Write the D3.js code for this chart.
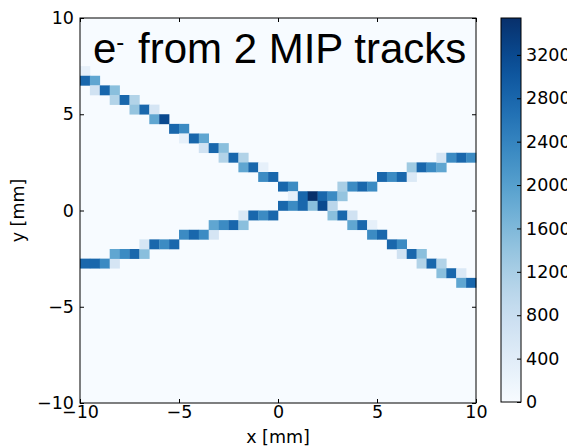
<!DOCTYPE html>
<html>
<head>
<meta charset="utf-8">
<script src="https://cdn.jsdelivr.net/npm/d3@7"></script>
<style>
  body { margin: 0; background: #fff; }
</style>
</head>
<body>
<svg id="chart" width="567" height="448"></svg>
<script>
// histogram bins: [x lower edge (mm), y lower edge (mm), counts], bin size 0.5 mm
const binSize = 0.5;
const xDomain = [-10, 10];
const yDomain = [-10, 10];
const axisTicks = [-10, -5, 0, 5, 10];
const colorMax = 3540;
const colorTicks = [0, 400, 800, 1200, 1600, 2000, 2400, 2800, 3200];

const descendingTrack = [
  [-10, 7.0, 300],
  [-10, 6.5, 2800], [-9.5, 6.5, 1900],
  [-9.5, 6.0, 700], [-9, 6.0, 2800], [-8.5, 6.0, 1500],
  [-8.5, 5.5, 1100], [-8, 5.5, 2800], [-7.5, 5.5, 1100],
  [-7.5, 5.0, 1400], [-7, 5.0, 2800], [-6.5, 5.0, 600],
  [-6.5, 4.5, 1900], [-6, 4.5, 3200],
  [-5.5, 4.0, 2800], [-5, 4.0, 2300],
  [-5, 3.5, 300], [-4.5, 3.5, 2800], [-4, 3.5, 1900],
  [-4, 3.0, 700], [-3.5, 3.0, 2800], [-3, 3.0, 1500],
  [-3, 2.5, 1100], [-2.5, 2.5, 2800], [-2, 2.5, 1100],
  [-2, 2.0, 1900], [-1.5, 2.0, 2800], [-1, 2.0, 300],
  [-1, 1.5, 2300], [-0.5, 1.5, 2800],
  [0, 1.0, 2800], [0.5, 1.0, 2300],
  [2.5, -0.5, 1500], [3, -0.5, 2800], [3.5, -0.5, 700],
  [3.5, -1.0, 1900], [4, -1.0, 2800], [4.5, -1.0, 300],
  [4.5, -1.5, 2300], [5, -1.5, 2800],
  [5.5, -2.0, 2800], [6, -2.0, 2300],
  [6, -2.5, 700], [6.5, -2.5, 2800], [7, -2.5, 1500],
  [7, -3.0, 1100], [7.5, -3.0, 2800], [8, -3.0, 1100],
  [8, -3.5, 1500], [8.5, -3.5, 2800], [9, -3.5, 500],
  [9, -4.0, 1900], [9.5, -4.0, 2800],
];

const ascendingTrack = [
  [-10, -3.0, 2800], [-9.5, -3.0, 2800], [-9, -3.0, 2300], [-8.5, -3.0, 600],
  [-8.5, -2.5, 1900], [-8, -2.5, 2300], [-7.5, -2.5, 2800], [-7, -2.5, 1500],
  [-7, -2.0, 600], [-6.5, -2.0, 2800], [-6, -2.0, 2300], [-5.5, -2.0, 2800],
  [-5, -1.5, 2300], [-4.5, -1.5, 2800], [-4, -1.5, 2300], [-3.5, -1.5, 600],
  [-3.5, -1.0, 1900], [-3, -1.0, 2300], [-2.5, -1.0, 2800], [-2, -1.0, 1500],
  [-2, -0.5, 500], [-1.5, -0.5, 2800], [-1, -0.5, 2300], [-0.5, -0.5, 2800],
  [3, 1.0, 1200], [3.5, 1.0, 2300], [4, 1.0, 2800], [4.5, 1.0, 2300],
  [5, 1.5, 2800], [5.5, 1.5, 2300], [6, 1.5, 2800], [6.5, 1.5, 500],
  [6.5, 2.0, 1300], [7, 2.0, 2800], [7.5, 2.0, 2300], [8, 2.0, 1900],
  [8, 2.5, 600], [8.5, 2.5, 2300], [9, 2.5, 2800], [9.5, 2.5, 2300],
];

// where the two tracks overlap
const crossingCells = [
  [0.5, 0.5, 300], [1, 0.5, 2800], [1.5, 0.5, 3540], [2, 0.5, 2800], [2.5, 0.5, 2300], [3, 0.5, 1400],
  [0, 0.0, 2800], [0.5, 0.0, 2300], [1, 0.0, 2800], [1.5, 0.0, 1500], [2, 0.0, 3200], [2.5, 0.0, 1000],
];

const svg = d3.select("#chart");
const margin = { left: 80, top: 18 };
const plotW = 396;
const plotH = 385;
const tickLen = 4;
const fontSize = 17.5;
const labelFont = "'DejaVu Sans', sans-serif";

const x = d3.scaleLinear().domain(xDomain).range([0, plotW]);
const y = d3.scaleLinear().domain(yDomain).range([plotH, 0]);
const color = d3.scaleSequential(d3.interpolateBlues).domain([0, colorMax]);

const g = svg.append("g").attr("transform", `translate(${margin.left},${margin.top})`);

g.append("rect")
  .attr("width", plotW)
  .attr("height", plotH)
  .attr("fill", color(0));

const cells = descendingTrack.concat(ascendingTrack, crossingCells)
  .map(([bx, by, count]) => ({ bx, by, count }));

g.append("g")
  .selectAll("rect")
  .data(cells)
  .join("rect")
  .attr("x", (d) => x(d.bx))
  .attr("y", (d) => y(d.by + binSize))
  .attr("width", (d) => x(d.bx + binSize) - x(d.bx) + 0.3)
  .attr("height", (d) => y(d.by) - y(d.by + binSize) + 0.3)
  .attr("fill", (d) => color(d.count));

// title inside the plot
const title = g.append("text")
  .attr("x", 13)
  .attr("y", 45)
  .style("font-family", "'Liberation Sans', Arial, sans-serif")
  .style("font-size", "42px")
  .attr("fill", "#000");
title.append("tspan").text("e");
title.append("tspan").style("font-size", "24px").attr("dy", -13).text("-");
title.append("tspan").attr("dy", 13).attr("x", 58).text("from 2 MIP tracks");

function styleAxis(sel) {
  sel.select(".domain").remove();
  sel.selectAll("line").attr("stroke", "#000");
  sel.selectAll("text")
    .style("font-size", `${fontSize}px`)
    .style("font-family", labelFont)
    .attr("fill", "#000");
}

g.append("g")
  .attr("transform", `translate(0,${plotH})`)
  .call(d3.axisBottom(x).tickValues(axisTicks).tickSize(-tickLen).tickPadding(3))
  .call(styleAxis);
g.append("g")
  .call(d3.axisTop(x).tickValues(axisTicks).tickSize(-tickLen).tickFormat(""))
  .call(styleAxis);
g.append("g")
  .call(d3.axisLeft(y).tickValues(axisTicks).tickSize(-tickLen).tickPadding(6))
  .call(styleAxis);
g.append("g")
  .attr("transform", `translate(${plotW},0)`)
  .call(d3.axisRight(y).tickValues(axisTicks).tickSize(-tickLen).tickFormat(""))
  .call(styleAxis);

g.append("rect")
  .attr("width", plotW)
  .attr("height", plotH)
  .attr("fill", "none")
  .attr("stroke", "#000")
  .attr("stroke-width", 1);

g.append("text")
  .attr("x", plotW / 2)
  .attr("y", plotH + 40)
  .attr("text-anchor", "middle")
  .style("font-size", `${fontSize}px`)
  .style("font-family", labelFont)
  .text("x [mm]");

g.append("text")
  .attr("transform", "rotate(-90)")
  .attr("x", -plotH / 2)
  .attr("y", -56)
  .attr("text-anchor", "middle")
  .style("font-size", `${fontSize}px`)
  .style("font-family", labelFont)
  .text("y [mm]");

// colorbar
const cb = { x: 501, y: 18, w: 20, h: 384 };
const cbScale = d3.scaleLinear().domain([0, colorMax]).range([cb.h, 0]);

const grad = svg.append("defs").append("linearGradient")
  .attr("id", "cbgrad")
  .attr("x1", 0).attr("y1", 1).attr("x2", 0).attr("y2", 0);
grad.selectAll("stop")
  .data(d3.range(0, 1.0001, 0.05))
  .join("stop")
  .attr("offset", (t) => t)
  .attr("stop-color", (t) => color(t * colorMax));

const cbg = svg.append("g").attr("transform", `translate(${cb.x},${cb.y})`);
cbg.append("rect")
  .attr("width", cb.w)
  .attr("height", cb.h)
  .attr("fill", "url(#cbgrad)");

cbg.append("g")
  .attr("transform", `translate(${cb.w},0)`)
  .call(d3.axisRight(cbScale).tickValues(colorTicks).tickSize(-tickLen).tickPadding(5).tickFormat(d3.format("d")))
  .call(styleAxis);

cbg.append("rect")
  .attr("width", cb.w)
  .attr("height", cb.h)
  .attr("fill", "none")
  .attr("stroke", "#000")
  .attr("stroke-width", 1);
</script>
</body>
</html>
